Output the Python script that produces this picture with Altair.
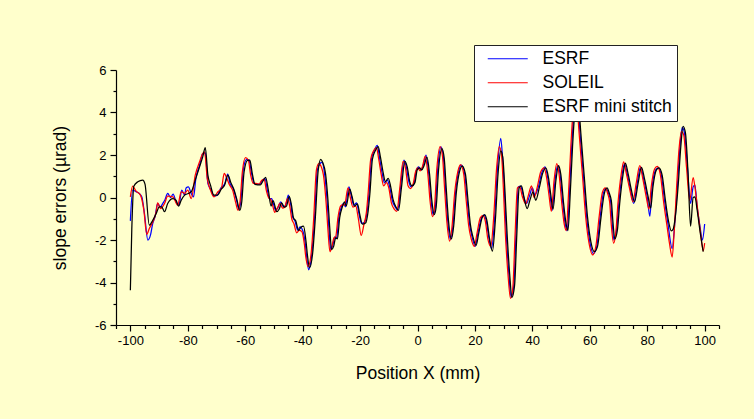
import altair as alt
import pandas as pd

# ---- slope error profiles (position in mm, slope error in µrad) ----
esrf_x = [-100.0, -99.2, -98.0, -96.9, -96.0, -95.1, -93.9, -93.0, -92.2, -91.4, -90.5, -89.6, -88.7, -87.9,
          -87.0, -86.0, -85.1, -84.1, -83.1, -82.1, -81.1, -80.6, -79.8, -78.8, -78.0, -77.2, -75.9, -74.8,
          -73.9, -73.0, -71.9, -70.9, -69.7, -68.6, -67.1, -66.1, -65.3, -64.2, -63.0, -62.2, -61.5, -60.7,
          -59.5, -58.7, -57.8, -56.9, -56.0, -54.9, -54.0, -53.1, -52.3, -51.6, -50.8, -50.2, -49.4, -48.5,
          -47.6, -46.7, -45.9, -45.0, -44.2, -43.5, -42.7, -41.7, -40.9, -40.0, -39.1, -38.6, -37.9, -36.8,
          -35.9, -34.9, -33.9, -33.3, -32.3, -31.5, -30.9, -30.2, -29.5, -28.8, -28.2, -27.4, -26.5, -25.7,
          -25.1, -23.9, -23.1, -22.2, -21.2, -20.4, -19.5, -18.4, -17.5, -16.9, -16.0, -15.0, -14.0, -13.2,
          -12.3, -11.5, -10.5, -9.7, -8.8, -7.8, -6.9, -5.9, -4.7, -3.9, -3.0, -2.2, -1.2, -0.4, 0.4, 1.2,
          2.0, 3.0, 3.9, 4.7, 5.5, 6.2, 7.0, 8.2, 9.0, 9.7, 10.5, 11.5, 12.3, 13.2, 14.4, 15.3, 16.4, 17.3,
          18.1, 19.0, 20.1, 21.0, 22.2, 23.1, 23.9, 24.8, 25.8, 26.8, 27.8, 29.0, 29.6, 30.2, 30.9, 31.8,
          32.6, 33.5, 34.3, 35.1, 35.9, 36.8, 38.0, 38.9, 40.0, 40.9, 42.1, 43.2, 44.4, 45.3, 46.1, 46.9,
          47.9, 48.8, 49.6, 50.6, 51.4, 52.1, 52.9, 53.7, 54.5, 55.3, 56.0, 56.6, 57.8, 58.9, 60.1, 61.3,
          62.4, 63.6, 64.7, 65.7, 66.5, 67.2, 67.8, 68.4, 69.3, 70.1, 71.3, 72.1, 73.0, 74.2, 75.3, 76.5,
          77.7, 78.8, 80.0, 80.9, 81.7, 82.9, 83.8, 84.9, 86.0, 87.2, 88.7, 89.5, 90.5, 91.4, 92.2, 93.0,
          94.0, 95.1, 96.0, 96.6, 97.4, 98.4, 99.2, 100.0]
esrf_y = [-1.10, 0.35, 0.27, 0.19, 0.03, -0.75, -2.00, -1.77, -1.22, -0.91, -0.28, -0.44, -0.28, -0.09,
          0.19, 0.00, 0.16, -0.20, -0.36, 0.35, 0.11, 0.45, 0.50, 0.19, 0.03, 0.89, 1.52, 2.07,
          2.10, 0.66, 0.35, 0.06, 0.11, 0.42, 0.66, 1.10, 0.66, 0.42, -0.13, -0.56, -0.13, 1.29,
          1.79, 1.76, 1.13, 0.66, 0.63, 0.63, 0.82, 0.89, 0.35, -0.05, -0.05, -0.28, -0.60, -0.44,
          -0.20, -0.44, -0.36, 0.11, -0.28, -0.91, -1.10, -1.54, -1.38, -1.54, -2.16, -2.79, -3.40, -2.64,
          -1.07, 1.29, 1.60, 1.65, 1.05, -0.13, -1.38, -2.45, -2.24, -1.85, -1.93, -0.91, -0.44, -0.28,
          -0.44, 0.50, 0.11, -0.36, -0.25, -0.75, -1.22, -1.15, -0.60, 0.19, 1.84, 2.23, 2.45, 1.84,
          1.13, 0.69, 0.82, 0.50, -0.13, -0.44, -0.60, 0.50, 1.76, 1.44, 0.74, 0.50, 0.66, 1.29, 1.44, 1.29,
          1.52, 1.99, 1.13, -0.13, -0.83, -0.44, 1.29, 2.38, 1.91, 0.50, -1.07, -1.98, -1.38, 0.19, 1.29, 1.52, 1.13, -0.13,
          -1.22, -1.85, -2.30, -1.69, -0.99, -0.83, -1.07, -1.85, -2.40, -1.07, 1.29, 2.78, 1.90, 0.50, -1.69, -3.58,
          -4.70, -4.20, -1.69, 0.50, 0.53, 0.11, -0.28, 0.03, 0.45, 0.11, 0.50, 1.13, 1.44, 0.97, 0.19, -0.60,
          0.82, 1.50, 1.13, -0.28, -1.22, -1.57, 0.19, 2.38, 4.10, 5.00, 4.10, 3.00, 0.97, -0.91, -2.16, -2.64,
          -2.32, -0.91, 0.19, 0.42, 0.19, -0.13, -1.22, -2.00, -1.54, -0.28, 1.13, 1.60, 1.13, 0.35, -0.28, 0.66,
          1.44, 0.82, 0.03, -0.88, 0.50, 1.29, 1.40, 1.05, -0.13, -1.22, -2.40, -1.38, 0.50, 2.38, 3.30, 3.00,
          1.44, -0.28, 0.50, 0.60, -0.44, -1.38, -2.00, -1.25]

soleil_x = [-100.0, -99.2, -98.0, -96.5, -95.3, -94.3, -93.4, -92.2, -91.0, -90.5, -89.5, -88.1, -87.0, -85.2,
            -83.5, -82.3, -81.1, -80.0, -78.8, -77.4, -75.9, -74.8, -74.2, -73.2, -72.1, -70.9, -69.5, -68.3,
            -67.3, -66.4, -65.5, -64.4, -63.3, -62.5, -61.8, -61.0, -59.9, -58.9, -58.1, -57.2, -56.2, -55.2,
            -54.3, -53.4, -52.6, -51.9, -51.1, -50.4, -49.7, -48.8, -47.9, -47.0, -46.2, -45.3, -44.5, -43.8,
            -43.0, -42.1, -41.2, -40.3, -39.4, -38.9, -38.1, -37.1, -36.2, -35.2, -34.4, -33.7, -32.6, -31.8,
            -31.2, -30.5, -29.8, -29.1, -28.5, -27.7, -26.8, -26.0, -25.4, -24.2, -23.4, -22.5, -21.5, -20.6,
            -19.6, -18.7, -17.8, -17.2, -16.3, -15.3, -14.3, -13.5, -12.6, -11.8, -10.8, -10.0, -9.1, -8.1,
            -7.2, -6.2, -5.0, -4.2, -3.3, -2.5, -1.5, -0.7, 0.1, 0.9, 1.7, 2.7, 3.6, 4.4, 5.2, 5.9, 6.7, 7.9,
            8.7, 9.4, 10.2, 11.2, 12.0, 12.9, 14.1, 15.0, 16.1, 17.0, 17.8, 18.7, 19.8, 20.7, 21.9, 22.8, 23.6,
            24.5, 25.5, 26.5, 27.5, 28.5, 29.3, 29.9, 30.6, 31.5, 32.4, 33.2, 34.0, 34.8, 35.6, 36.5, 37.7,
            38.6, 39.7, 40.6, 41.8, 42.9, 44.1, 45.0, 45.8, 46.6, 47.6, 48.5, 49.3, 50.3, 51.1, 51.8, 52.6,
            53.4, 54.2, 55.0, 55.7, 56.3, 57.5, 58.6, 59.8, 61.0, 62.1, 63.3, 64.4, 65.4, 66.2, 66.9, 67.5,
            68.3, 69.1, 69.8, 71.0, 71.8, 72.7, 73.9, 75.0, 76.2, 77.4, 78.5, 79.7, 80.6, 81.4, 82.6, 83.5,
            84.6, 85.7, 86.9, 87.8, 88.7, 89.4, 90.2, 91.1, 91.9, 92.7, 93.7, 94.8, 96.0, 96.7, 97.6, 98.6,
            99.5, 100.0]
soleil_y = [0.03, 0.53, 0.30, 0.11, -0.60, -1.73, -1.46, -1.15, -0.67, -0.25, -0.52, -0.28, 0.06, 0.03,
            -0.36, 0.27, 0.19, 0.35, -0.05, 1.05, 1.68, 2.07, 2.15, 0.89, 0.35, 0.03, 0.27, 0.42,
            1.13, 0.90, 0.60, 0.35, -0.25, -0.60, -0.20, 1.20, 1.88, 1.75, 1.05, 0.66, 0.66, 0.63,
            0.80, 0.85, 0.30, 0.00, -0.10, -0.40, -0.70, -0.50, -0.28, -0.50, -0.45, -0.05, -0.40, -1.00,
            -1.25, -1.66, -1.55, -1.60, -2.20, -2.80, -3.25, -2.70, -1.10, 1.30, 1.60, 1.50, 0.90, -0.30,
            -1.50, -2.55, -2.30, -1.90, -1.85, -0.95, -0.40, -0.35, -0.35, 0.45, 0.00, -0.45, -0.40, -1.00,
            -1.78, -1.30, -0.70, 0.20, 1.80, 2.20, 2.35, 1.80, 1.05, 0.55, 0.70, 0.45, -0.25, -0.55,
            -0.65, 0.40, 1.70, 1.40, 0.55, 0.42, 0.65, 1.20, 1.40, 1.25, 1.45, 1.95, 1.10, -0.20, -0.90, -0.50, 1.30, 2.40,
            1.95, 0.50, -1.10, -2.05, -1.40, 0.15, 1.25, 1.55, 1.10, -0.20, -1.30, -1.95, -2.30, -1.70, -0.95, -0.85, -1.10,
            -1.95, -2.30, -1.00, 1.30, 2.40, 1.95, 0.45, -1.70, -3.60, -4.75, -4.25, -1.70, 0.45, 0.50, 0.05, -0.30,
            0.10, 0.55, 0.00, 0.55, 1.20, 1.40, 0.90, 0.10, -0.65, 0.85, 1.60, 1.10, -0.35, -1.25, -1.55, 0.20,
            2.40, 4.10, 5.00, 4.10, 3.00, 0.95, -0.95, -2.20, -2.70, -2.30, -0.85, 0.25, 0.45, 0.20, -0.20, -1.30,
            -2.15, -1.60, -0.30, 1.15, 1.68, 1.15, 0.40, -0.20, 0.70, 1.50, 0.85, 0.00, -0.55, 0.50, 1.35, 1.46,
            1.05, -0.20, -1.35, -2.20, -2.80, -1.60, 0.40, 2.30, 3.10, 2.95, 1.40, -0.13, 0.94, 0.40, -0.60, -1.70,
            -2.51, -2.15]

stitch_x = [-100.0, -99.5, -98.8, -97.4, -95.7, -94.9, -93.4, -92.2, -91.0, -89.9, -89.1, -88.1, -87.0, -85.2,
            -84.1, -83.2, -82.3, -81.1, -79.8, -78.8, -77.4, -75.9, -74.8, -73.9, -73.0, -72.1, -70.9, -69.7,
            -68.3, -67.2, -66.0, -65.0, -64.0, -62.9, -61.9, -61.2, -60.4, -59.2, -58.4, -57.5, -56.6, -55.7,
            -54.7, -53.8, -52.9, -52.0, -51.0, -50.3, -49.0, -48.2, -47.3, -46.4, -45.6, -44.7, -43.9, -43.2,
            -42.4, -41.4, -40.6, -39.7, -38.8, -38.3, -37.6, -36.5, -35.6, -34.6, -33.7, -33.0, -32.0, -31.2,
            -30.6, -29.9, -29.2, -28.5, -27.9, -27.1, -26.2, -25.4, -24.8, -23.6, -22.8, -21.9, -20.9, -20.1,
            -19.2, -18.1, -17.2, -16.6, -15.7, -14.7, -13.7, -12.9, -12.0, -11.2, -10.2, -9.4, -8.5, -7.5,
            -6.6, -5.6, -4.4, -3.6, -2.7, -1.9, -0.9, -0.1, 0.7, 1.5, 2.3, 3.3, 4.2, 5.0, 5.8, 6.5, 7.3, 8.5,
            9.3, 10.0, 10.8, 11.8, 12.6, 13.5, 14.7, 15.6, 16.7, 17.6, 18.4, 19.3, 20.4, 21.3, 22.5, 23.4, 24.2,
            25.1, 26.1, 27.1, 28.1, 29.0, 29.7, 30.4, 31.2, 32.1, 32.9, 33.8, 34.6, 35.4, 36.2, 37.1, 38.2,
            39.2, 40.2, 41.2, 42.4, 43.5, 44.7, 45.6, 46.4, 47.2, 48.2, 49.1, 49.9, 50.9, 51.7, 52.4, 53.2,
            54.0, 54.8, 55.6, 56.3, 56.9, 58.1, 59.2, 60.4, 61.6, 62.7, 63.9, 65.0, 66.0, 66.8, 67.5, 68.1,
            68.7, 69.6, 70.4, 71.6, 72.4, 73.3, 74.5, 75.6, 76.8, 78.0, 79.1, 80.3, 81.2, 82.0, 83.2, 84.1,
            85.2, 86.3, 87.4, 88.4, 89.0, 89.8, 90.8, 91.7, 92.5, 93.3, 94.2, 95.1, 96.0, 96.6, 97.4, 98.4,
            99.5]
stitch_y = [-4.36, -1.50, 0.53, 0.74, 0.82, 0.63, -1.30, -1.07, -0.75, -0.44, -0.44, -0.67, -0.28, -0.05,
            -0.13, -0.41, -0.13, 0.11, 0.19, 0.27, 0.82, 1.44, 1.91, 2.35, 1.05, 0.58, 0.11, 0.11,
            0.40, 0.58, 1.05, 0.70, 0.40, -0.10, -0.60, -0.20, 1.20, 1.75, 1.76, 1.10, 0.62, 0.60,
            0.60, 0.78, 0.95, 0.40, -0.40, -0.15, -0.67, -0.55, -0.25, -0.45, -0.40, 0.05, -0.35, -0.95,
            -1.10, -1.55, -1.40, -1.35, -2.10, -2.75, -3.30, -2.60, -1.00, 1.25, 1.80, 1.65, 1.10, -0.10,
            -1.35, -2.45, -2.30, -1.90, -1.95, -0.95, -0.45, -0.20, -0.40, 0.40, 0.05, -0.40, -0.30, -0.80,
            -1.25, -1.20, -0.65, 0.15, 1.80, 2.20, 2.40, 1.90, 1.20, 0.75, 0.90, 0.55, -0.10, -0.45,
            -0.60, 0.45, 1.70, 1.45, 0.75, 0.55, 0.70, 1.30, 1.40, 1.30, 1.50, 1.90, 1.10, -0.15, -0.80, -0.45, 1.25, 2.30,
            1.85, 0.45, -1.10, -1.95, -1.35, 0.20, 1.25, 1.48, 1.10, -0.15, -1.25, -1.85, -2.25, -1.70, -0.95, -0.80, -1.10,
            -1.95, -2.52, -1.10, 1.20, 2.20, 1.90, 0.45, -1.70, -3.60, -4.70, -4.15, -1.70, 0.45, 0.55, 0.00, -0.52,
            -0.10, 0.25, -0.13, 0.45, 1.10, 1.40, 0.95, 0.15, -0.55, 0.80, 1.50, 1.10, -0.30, -1.20, -1.55, 0.20,
            2.40, 4.10, 5.00, 4.10, 3.00, 0.95, -0.90, -2.10, -2.55, -2.30, -0.95, 0.15, 0.45, 0.20, -0.15, -1.20,
            -1.95, -1.55, -0.30, 1.10, 1.62, 1.15, 0.35, -0.20, 0.65, 1.42, 0.85, 0.05, -0.50, 0.50, 1.30, 1.40,
            1.05, -0.10, -1.10, -1.57, -1.50, -0.90, 0.60, 2.40, 3.35, 3.05, 1.20, -1.35, 0.00, 0.03, -0.60, -1.60,
            -2.55]

series_names = ["ESRF", "SOLEIL", "ESRF mini stitch"]
series_colors = ["#0000FF", "#FF0000", "#000000"]

x_major = [-100, -80, -60, -40, -20, 0, 20, 40, 60, 80, 100]
x_minor = [v for v in range(-105, 106, 5) if v % 20 != 0]
y_major = [-6, -4, -2, 0, 2, 4, 6]
y_minor = [-5, -3, -1, 1, 3, 5]

frames = []
for name, xs, ys in zip(series_names, [esrf_x, soleil_x, stitch_x], [esrf_y, soleil_y, stitch_y]):
    frames.append(pd.DataFrame({"x": xs, "y": ys, "series": name, "idx": range(len(xs))}))
df = pd.concat(frames, ignore_index=True)

FONT = "Liberation Sans"
PLOT_W, PLOT_H = 603, 255
# plain hyphen for negative tick labels
HYPHEN_LABEL = "datum.value < 0 ? '-' + abs(datum.value) : '' + datum.value"

x_scale = alt.Scale(domain=[-105, 105], nice=False, zero=False)
y_scale = alt.Scale(domain=[-6, 6], nice=False, zero=False)

base = alt.Chart(df)

lines = base.mark_line(strokeWidth=1.25, interpolate="monotone").encode(
    x=alt.X("x:Q", scale=x_scale,
            axis=alt.Axis(values=x_major, tickSize=6, labelPadding=3, orient="bottom",
                          labelExpr=HYPHEN_LABEL,
                          title="Position X (mm)", titleX=PLOT_W / 2, titleY=48,
                          titleBaseline="middle", titleAlign="center")),
    y=alt.Y("y:Q", scale=y_scale,
            axis=alt.Axis(values=y_major, tickSize=6, labelPadding=4, orient="left",
                          labelExpr=HYPHEN_LABEL,
                          title="slope errors (µrad)", titleX=-56, titleY=PLOT_H / 2,
                          titleAngle=270, titleBaseline="middle", titleAlign="center")),
    color=alt.Color("series:N",
                    scale=alt.Scale(domain=series_names, range=series_colors),
                    legend=alt.Legend(title=None, orient="none", legendX=358, legendY=-25,
                                      fillColor="white", strokeColor="#222222", padding=5,
                                      rowPadding=5, symbolType="M0,0H20", symbolSize=16,
                                      symbolStrokeWidth=1.2, labelFontSize=17.5, labelFont=FONT,
                                      labelColor="black", labelOffset=46, labelLimit=400,
                                      zindex=1)),
    order="idx:Q",
)

# invisible layer carrying the minor-tick axes
minor = base.mark_line(opacity=0).encode(
    x=alt.X("x:Q", scale=x_scale,
            axis=alt.Axis(values=x_minor, labels=False, domain=False, tickSize=3.5,
                          title=None, orient="bottom")),
    y=alt.Y("y:Q", scale=y_scale,
            axis=alt.Axis(values=y_minor, labels=False, domain=False, tickSize=3,
                          title=None, orient="left")),
    detail="series:N",
)

chart = (
    alt.layer(lines, minor)
    .resolve_axis(x="independent", y="independent")
    .properties(
        width=PLOT_W,
        height=PLOT_H,
        autosize=alt.AutoSizeParams(type="none"),
        padding={"left": 116, "top": 70, "right": 35, "bottom": 94},
        background="#FFFFCC",
    )
    .configure_view(stroke=None)
    .configure_axis(
        grid=False,
        labelFont=FONT,
        titleFont=FONT,
        labelFontSize=13,
        titleFontSize=17.5,
        titleFontWeight="normal",
        labelColor="black",
        titleColor="black",
        domainColor="black",
        tickColor="black",
        domainWidth=1.2,
        tickWidth=1.2,
    )
)

chart.save("out.html", embed_options={"renderer": "svg", "actions": False})
